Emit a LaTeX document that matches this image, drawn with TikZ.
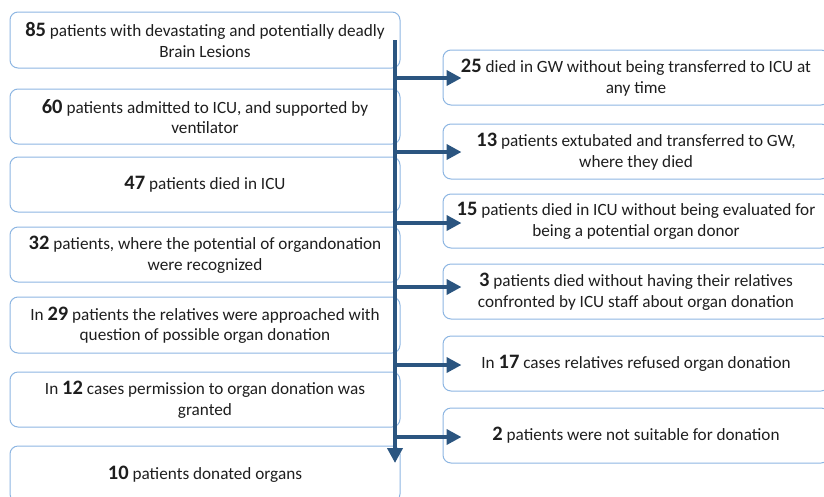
\documentclass[tikz,border=0pt]{standalone}
\usepackage{fontspec}
\setmainfont{Carlito}
\usetikzlibrary{arrows.meta}
\definecolor{boxline}{HTML}{8DB6E2}
\definecolor{flow}{HTML}{2B5580}
\definecolor{txt}{HTML}{1E1E1E}
\newcommand{\bignum}[1]{{\fontsize{20.5}{20}\selectfont\bfseries #1}}
\begin{document}
\begin{tikzpicture}[x=1pt,y=-1pt,
  box/.style={draw=boxline, line width=1pt, rounded corners=8pt, align=center,
    text=txt, font=\fontsize{17.2}{20.5}\selectfont, inner sep=0pt, minimum height=55pt},
  lbox/.style={box, minimum width=390pt},
  rbox/.style={box, minimum width=386pt},
  flowline/.style={draw=flow, line width=4pt},
  flowarrow/.style={flowline, -{Triangle[length=15pt,width=15pt]}}]
\useasboundingbox (0,0) rectangle (824,496);
\clip (0,0) rectangle (824,496);
% left column
\node[lbox, minimum height=56pt] (l1) at (205,40) {\bignum{85} patients with devastating and potentially deadly\\ Brain Lesions};
\node[lbox] (l2) at (205,116.5) {\bignum{60} patients admitted to ICU, and supported by\\ ventilator};
\node[lbox] (l3) at (205,184.5) {\bignum{47} patients died in ICU};
\node[lbox] (l4) at (205,254.5) {\bignum{32} patients, where the potential of organdonation\\ were recognized};
\node[lbox, minimum height=56pt] (l5) at (205,325) {In \bignum{29} patients the relatives were approached with\\ question of possible organ donation};
\node[lbox] (l6) at (205,399.5) {In \bignum{12} cases permission to organ donation was\\ granted};
\node[lbox, minimum height=56pt] (l7) at (205,474) {\bignum{10} patients donated organs};
% right column
\node[rbox] (r1) at (636,77.5) {\bignum{25} died in GW without being transferred to ICU at\\ any time};
\node[rbox] (r2) at (636,151.5) {\bignum{13} patients extubated and transferred to GW,\\ where they died};
\node[rbox, minimum height=54pt] (r3) at (636,221) {\bignum{15} patients died in ICU without being evaluated for\\ being a potential organ donor};
\node[rbox] (r4) at (636,291.5) {\bignum{3} patients died without having their relatives\\ confronted by ICU staff about organ donation};
\node[rbox] (r5) at (636,363.5) {In \bignum{17} cases relatives refused organ donation};
\node[rbox] (r6) at (636,435.5) {\bignum{2} patients were not suitable for donation};
% trunk
\coordinate (ttop) at (395,40);
\coordinate (tbot) at (395,463);
\draw[flowarrow] (ttop) -- (tbot);
\foreach \r/\y in {r1/78, r2/152, r3/223, r4/287, r5/365, r6/437}{
  \draw[flowarrow] (ttop |- 0,\y) -- ([xshift=19pt]\r.west |- 0,\y);
}
\end{tikzpicture}
\end{document}
